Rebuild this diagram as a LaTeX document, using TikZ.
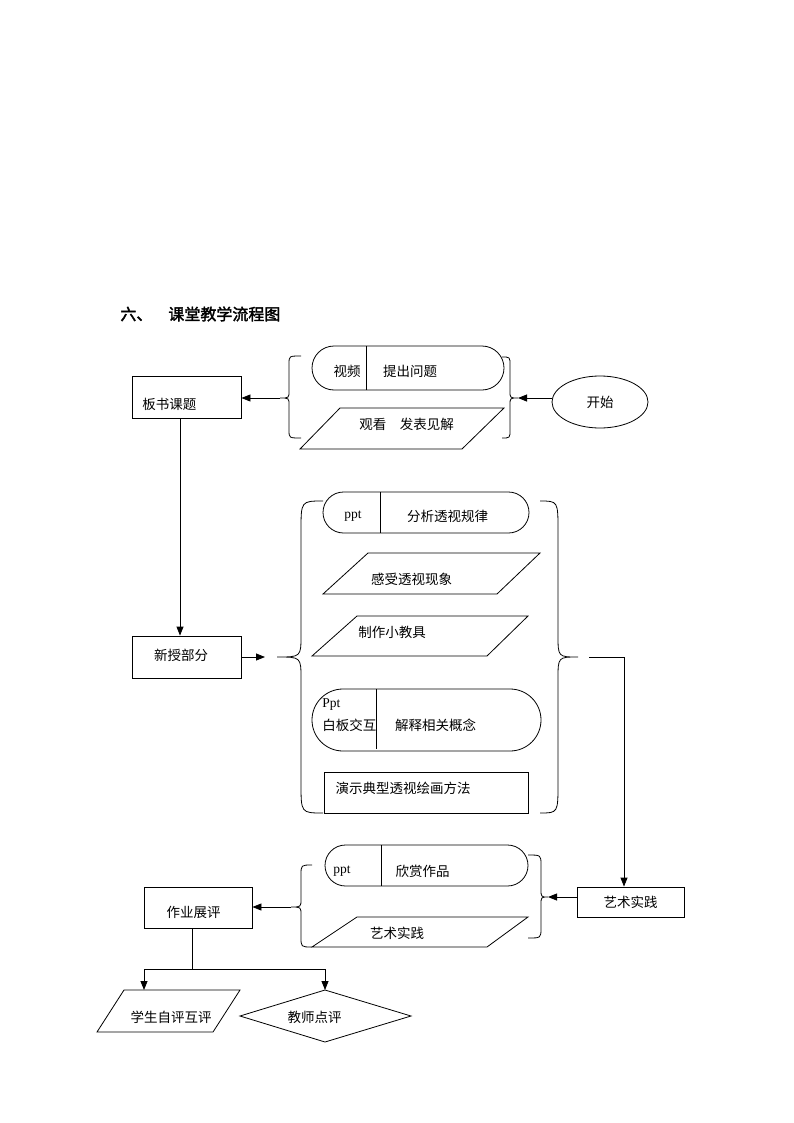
\documentclass[tikz,border=0pt]{standalone}
\usepackage{fontspec}
\setmainfont{Liberation Serif}
\newfontfamily\cjk{Noto Sans CJK SC}
\newfontfamily\cjkb[FakeBold=2]{Noto Sans CJK SC}
\usetikzlibrary{arrows.meta,shapes.geometric,shapes.misc}
\newcommand{\mybrace}[8]{%
  \draw (#1,#4) .. controls (#2,#4) .. (#2,#4+#7) -- (#2,#5-#8) .. controls (#2,#5) .. (#3,#5)
        .. controls (#2,#5) .. (#2,#5+#8) -- (#2,#6-#7) .. controls (#2,#6) .. (#1,#6);}
\begin{document}
\begin{tikzpicture}[x=1pt,y=-1pt,line width=0.8pt,
  box/.style={draw,rectangle,inner sep=0pt},
  stad/.style={draw,rounded rectangle,inner sep=0pt},
  txt/.style={font=\cjk\fontsize{13.5}{16}\selectfont,inner sep=0pt},
  lat/.style={font=\fontsize{13.5}{16}\selectfont,inner sep=0pt},
  ttl/.style={font=\cjkb\fontsize{16}{18}\selectfont,inner sep=0pt,anchor=west},
  arr/.style={-{Triangle[length=9pt,width=7pt]}}]
\useasboundingbox (0,0) rectangle (794,1123);

% title
\node[ttl] (t1) at (120,314) {六、};
\node[ttl] (t2) at (168,314) {课堂教学流程图};

% 板书课题
\node[box,minimum width=109,minimum height=42] (bs) at (186.5,397) {};
\node[txt,anchor=west] (bst) at (142,404) {板书课题};

% top group
\node[stad,minimum width=192,minimum height=44] (s1) at (408,368) {};
\draw (366,346) -- (366,390);
\node[txt] (s1a) at (347,371) {视频};
\node[txt] (s1b) at (410,371) {提出问题};
\draw (340,408) -- (504,408) -- (462,449) -- (300,449) -- cycle;
\node[txt] (p1) at (406.5,424) {观看　发表见解};
\mybrace{301}{289}{280}{356}{398}{438}{8}{7}
\mybrace{502}{510}{518}{357}{398}{438}{8}{7}
\coordinate (lb1) at (280,398);
\coordinate (rb1) at (518,398);

\node[draw,ellipse,minimum width=96,minimum height=52,txt] (start) at (600,402) {开始};
\draw[arr] (start.west |- rb1) -- (rb1);
\draw[arr] (lb1) -- (bs.east |- lb1);

% 新授部分
\node[box,minimum width=109,minimum height=42] (nb) at (186.5,657) {};
\node[txt] (nbt) at (181,655) {新授部分};
\draw[arr] ([xshift=-6.5pt]bs.south) -- ([xshift=-6.5pt]nb.north);
\coordinate (a1) at (265,657);
\draw[arr] (nb.east) -- (a1);

% big group
\mybrace{323}{301}{277}{501}{657}{813}{30}{22}
\mybrace{540}{558}{578}{501}{657}{813}{30}{22}
\node[stad,minimum width=206,minimum height=41] (s2) at (426,512.5) {};
\draw (380,492) -- (380,533);
\node[lat] (s2a) at (353,516) {ppt};
\node[txt] (s2b) at (447.5,516) {分析透视规律};
\draw (368,553) -- (540,553) -- (497,594) -- (323,594) -- cycle;
\node[txt] (p2) at (411.5,579) {感受透视现象};
\draw (357,616) -- (528,616) -- (487,656) -- (312,656) -- cycle;
\node[txt] (p3) at (392,632) {制作小教具};
\node[stad,minimum width=229,minimum height=62] (s3) at (426.5,720) {};
\draw (376,689) -- (376,749);
\node[lat,anchor=west] (s3a) at (322,705) {Ppt};
\node[txt,anchor=west] (s3b) at (322,725) {白板交互};
\node[txt] (s3c) at (435.5,725) {解释相关概念};
\node[box,minimum width=204,minimum height=41] (r1) at (426,792.5) {};
\node[txt] (r1t) at (403,788) {演示典型透视绘画方法};

% 艺术实践 box
\node[box,minimum width=107,minimum height=30,txt] (art) at (630.5,902) {艺术实践};
\coordinate (a2) at (589,657);
\draw[arr] (a2) -| ([xshift=-6.5pt]art.north);

% lower group
\node[stad,minimum width=203,minimum height=41] (s4) at (426.5,865.5) {};
\draw (381,845) -- (381,886);
\node[lat] (s4a) at (342,871) {ppt};
\node[txt] (s4b) at (422.5,871) {欣赏作品};
\draw (357,917) -- (528,917) -- (487,947) -- (312,947) -- cycle;
\node[txt] (p4) at (397,933) {艺术实践};
\mybrace{312}{301}{291}{865}{907}{947}{10}{8}
\mybrace{528}{541}{548}{855}{897}{938}{10}{8}
\coordinate (lb3) at (291,907);
\coordinate (rb3) at (548,897);
\draw[arr] (art.west |- rb3) -- (rb3);

% 作业展评
\node[box,minimum width=108,minimum height=41] (zy) at (198,907.5) {};
\node[txt] (zyt) at (193.5,912) {作业展评};
\draw[arr] (lb3) -- (zy.east |- lb3);

% bottom
\draw (124,990) -- (240,990) -- (213,1032) -- (97,1032) -- cycle;
\node[txt] (p5) at (171,1017) {学生自评互评};
\coordinate (p5n) at (144,990);
\draw (240,1016) -- (325,990) -- (411,1016) -- (325,1042) -- cycle;
\coordinate (dn) at (325,990);
\node[txt] (dt) at (314.5,1017) {教师点评};
\coordinate (j) at (192,969);
\draw ([xshift=-6pt]zy.south) -- (j);
\draw[arr] (j) -| (p5n);
\draw[arr] (j) -| (dn);
\end{tikzpicture}
\end{document}
